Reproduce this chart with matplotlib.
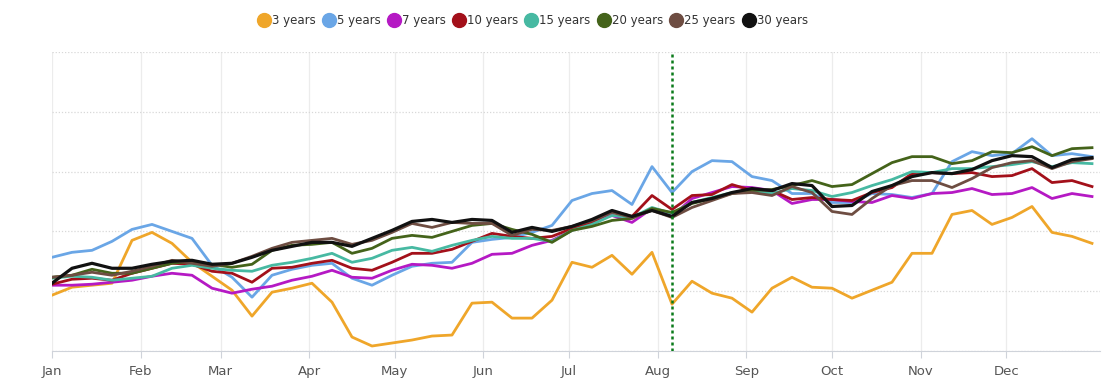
import matplotlib
matplotlib.use("Agg")
import matplotlib.pyplot as plt
import matplotlib.dates as mdates
from matplotlib.lines import Line2D
import pandas as pd

# weekly samples through the year (last point = Dec 31)
dates = pd.date_range("2019-01-01", "2019-12-24", freq="7D").append(pd.DatetimeIndex(["2019-12-31"]))
marker_date = pd.Timestamp("2019-08-06")
month_ticks = pd.date_range("2019-01-01", periods=12, freq="MS")

labels = ["3 years", "5 years", "7 years", "10 years", "15 years", "20 years", "25 years", "30 years"]
colors = ["#EFA62A", "#6AA6E6", "#B519C4", "#A3101A", "#47B9A2", "#44631A", "#6E4D42", "#111111"]

y3 = [56, 64, 66, 68, 111, 119, 108, 89, 75, 61, 35, 59, 63, 68, 49, 14, 5, 8, 11, 15,
      16, 48, 49, 33, 33, 51, 89, 84, 96, 77, 99, 47, 70, 58, 53, 39, 63, 74, 64, 63,
      53, 61, 69, 98, 98, 137, 141, 127, 134, 145, 119, 115, 108]
y5 = [94, 99, 101, 110, 122, 127, 120, 113, 86, 74, 54, 76, 82, 86, 88, 73, 66, 76, 85, 88,
      89, 109, 112, 114, 119, 126, 151, 158, 161, 147, 185, 159, 180, 191, 190, 175, 171, 158, 158, 149,
      149, 158, 157, 154, 158, 190, 200, 196, 198, 213, 196, 198, 195]
y7 = [66, 66, 67, 69, 71, 75, 78, 76, 63, 58, 62, 65, 71, 75, 81, 74, 73, 81, 87, 86,
      83, 88, 97, 98, 106, 111, 121, 131, 136, 129, 143, 135, 153, 159, 165, 164, 161, 148, 152, 152,
      150, 149, 156, 153, 158, 159, 163, 157, 158, 164, 153, 158, 155]
y10 = [67, 72, 73, 71, 78, 83, 88, 87, 80, 78, 69, 83, 84, 88, 91, 83, 81, 89, 98, 98,
       102, 110, 118, 115, 113, 115, 123, 129, 140, 135, 156, 142, 156, 157, 167, 161, 161, 152, 154, 152,
       151, 159, 164, 178, 179, 178, 179, 175, 176, 183, 169, 171, 165]
y15 = [73, 75, 74, 71, 73, 75, 83, 86, 83, 81, 80, 86, 89, 93, 98, 89, 93, 101, 104, 100,
       106, 111, 115, 113, 113, 110, 121, 127, 136, 134, 144, 138, 149, 154, 159, 160, 158, 163, 161, 155,
       159, 166, 172, 180, 179, 183, 183, 185, 187, 190, 185, 189, 188]
y20 = [74, 76, 82, 78, 78, 83, 88, 90, 87, 84, 87, 101, 106, 107, 109, 98, 103, 113, 116, 114,
       120, 126, 128, 122, 117, 109, 121, 125, 131, 133, 143, 139, 148, 153, 158, 161, 162, 166, 171, 165,
       167, 178, 189, 195, 195, 188, 191, 200, 199, 205, 196, 203, 204]
y25 = [74, 76, 79, 76, 80, 85, 91, 88, 85, 88, 95, 103, 109, 111, 113, 107, 111, 119, 128, 124,
       129, 128, 128, 116, 122, 121, 125, 131, 139, 134, 141, 134, 144, 151, 158, 159, 156, 165, 159, 140,
       137, 153, 166, 171, 171, 164, 173, 184, 189, 191, 183, 190, 193]
y30 = [68, 83, 88, 83, 83, 87, 90, 91, 87, 88, 94, 101, 105, 109, 109, 105, 113, 121, 130, 132,
       129, 132, 131, 119, 124, 120, 125, 132, 141, 135, 141, 135, 149, 153, 159, 163, 161, 168, 166, 145,
       146, 160, 166, 175, 179, 178, 182, 191, 196, 195, 184, 192, 194]

series = [y3, y5, y7, y10, y15, y20, y25, y30]

fig = plt.figure(figsize=(11.05, 3.88), dpi=100)
ax = fig.add_axes([52 / 1105, 37 / 388, 1048 / 1105, 299 / 388])

for vals, col, lab in zip(series, colors, labels):
    lw = 2.3 if lab == "30 years" else 2.0
    ax.plot(dates, vals, color=col, lw=lw, label=lab, solid_joinstyle="round")

ax.axvline(marker_date, color="#0a7a1a", lw=1.8, ls=(0, (1.2, 1.2)), zorder=5)

ax.set_ylim(0, 300)
ax.set_yticks([0, 60, 120, 180, 240, 300])
ax.set_xlim(pd.Timestamp("2019-01-01"), pd.Timestamp("2019-01-01") + pd.Timedelta(days=366.8))
ax.set_xticks(month_ticks)
ax.xaxis.set_major_formatter(mdates.DateFormatter("%b"))

ax.grid(axis="y", color="#d8d8d8", ls=(0, (1, 1.5)), lw=0.9)
ax.grid(axis="x", color="#ececec", ls="-", lw=0.9)
ax.set_axisbelow(True)
for s in ["top", "right", "left"]:
    ax.spines[s].set_visible(False)
ax.spines["bottom"].set_color("#cfd3da")
ax.tick_params(axis="y", left=False, labelleft=False)
ax.tick_params(axis="x", colors="#cfd3da", length=5, labelcolor="#555555", labelsize=9.5, pad=5)

handles = [Line2D([], [], ls="", marker="o", markersize=10, color=c) for c in colors]
fig.legend(handles, labels, loc="center", bbox_to_anchor=(0.482, 0.948), ncol=8, frameon=False,
           fontsize=8.5, handletextpad=0.15, columnspacing=0.55, handlelength=1.1,
           labelcolor="#333333")

fig.savefig("out.png", dpi=100)
